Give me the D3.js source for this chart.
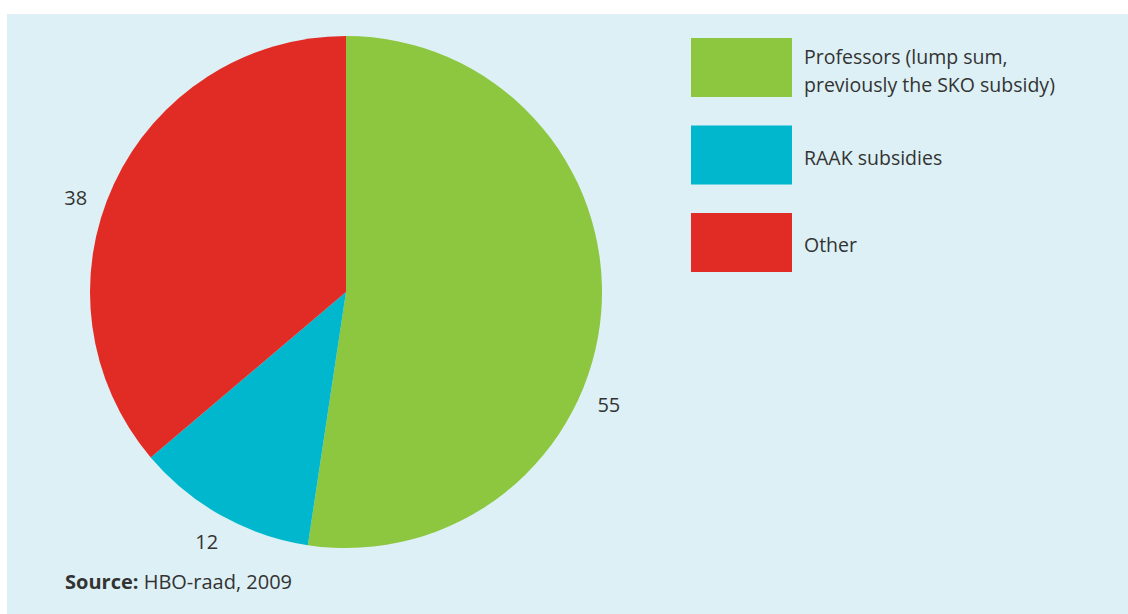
<!DOCTYPE html>
<html>
<head>
<meta charset="utf-8">
<script src="https://cdn.jsdelivr.net/npm/d3@7"></script>
<style>
  body { margin: 0; background: #fff; }
  svg { display: block; font-family: "Open Sans", "Noto Sans", sans-serif; }
</style>
</head>
<body>
<div id="chart"></div>
<script>
// data
const categories = ["Professors (lump sum, previously the SKO subsidy)", "RAAK subsidies", "Other"];
const legendLines = [["Professors (lump sum,", "previously the SKO subsidy)"], ["RAAK subsidies"], ["Other"]];
const values = [55, 12, 38];
const colors = ["#8dc63f", "#00b7cd", "#e12c26"];

const width = 1128, height = 614;
const cx = 346, cy = 292, radius = 256;

const svg = d3.select("#chart").append("svg")
    .attr("width", width)
    .attr("height", height);

// achtergrond paneel
svg.append("rect")
    .attr("x", 7).attr("y", 14)
    .attr("width", width - 7).attr("height", height - 14)
    .attr("fill", "#dcf0f5");

const pie = d3.pie().sort(null).value(d => d);
const arcs = pie(values);
const arc = d3.arc().innerRadius(0).outerRadius(radius);

const g = svg.append("g").attr("transform", `translate(${cx},${cy})`);

g.selectAll("path")
    .data(arcs)
    .join("path")
    .attr("d", arc)
    .attr("fill", (d, i) => colors[i]);

// labels buiten de taart (eerste label is iets naar beneden geschoven zoals in origineel)
const labelShift = [0.33, 0, -0.1];
const labelR = 286;
g.selectAll("text.val")
    .data(arcs)
    .join("text")
    .attr("class", "val")
    .attr("x", (d, i) => labelR * Math.sin((d.startAngle + d.endAngle) / 2 + labelShift[i]))
    .attr("y", (d, i) => -labelR * Math.cos((d.startAngle + d.endAngle) / 2 + labelShift[i]))
    .attr("dy", "0.35em")
    .attr("text-anchor", "middle")
    .style("font-size", "20px")
    .style("fill", "#333")
    .text(d => d.data);

// legenda
const legend = svg.append("g").attr("transform", "translate(691,38)");
const row = legend.selectAll("g")
    .data(categories)
    .join("g")
    .attr("transform", (d, i) => `translate(0,${i * 87.5})`);

row.append("rect")
    .attr("width", 101)
    .attr("height", 59)
    .attr("fill", (d, i) => colors[i]);

row.append("text")
    .attr("x", 113)
    .attr("y", (d, i) => legendLines[i].length > 1 ? 26 : 39)
    .style("font-size", "19.5px")
    .style("fill", "#333")
    .selectAll("tspan")
    .data((d, i) => legendLines[i])
    .join("tspan")
    .attr("x", 113)
    .attr("dy", (d, j) => j === 0 ? 0 : 28)
    .text(d => d);

// bron
const src = svg.append("text")
    .attr("x", 65).attr("y", 589)
    .style("font-size", "20px")
    .style("fill", "#333");
src.append("tspan").style("font-weight", "bold").text("Source:");
src.append("tspan").text(" HBO-raad, 2009");
</script>
</body>
</html>
